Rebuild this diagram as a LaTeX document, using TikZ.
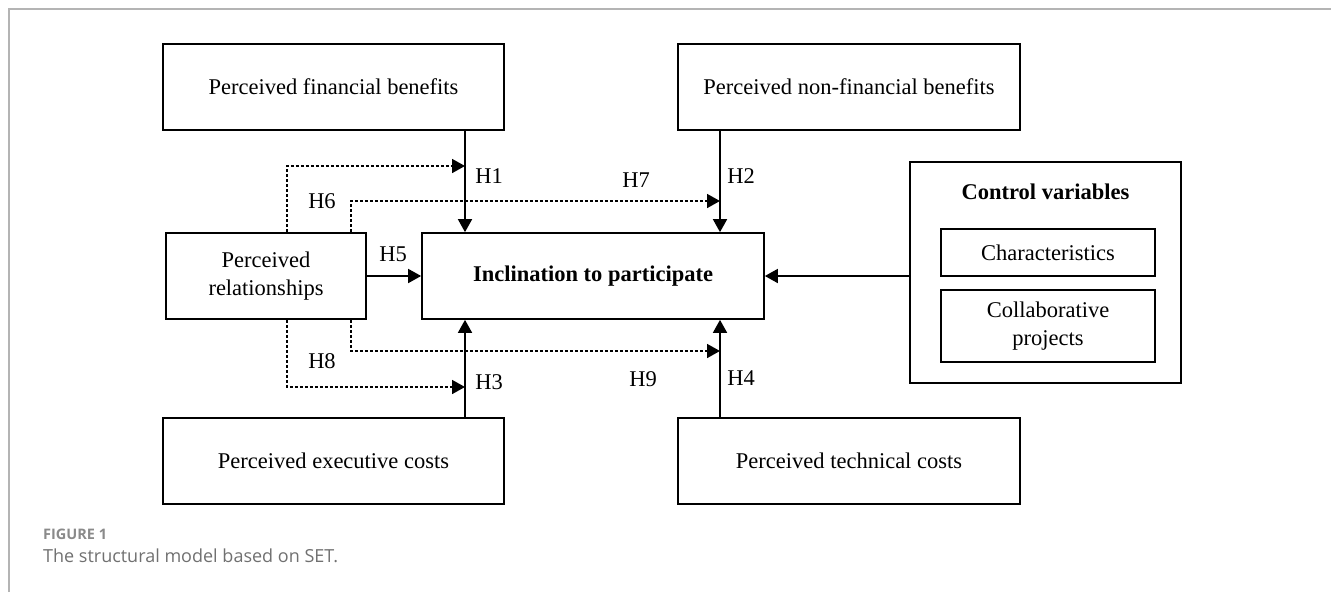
\documentclass[tikz,border=0pt]{standalone}
\usepackage{fontspec}
\setmainfont{Liberation Serif}
\newfontfamily\capfont{Open Sans}
\usetikzlibrary{arrows.meta}
\definecolor{framegray}{HTML}{B4B4B4}
\definecolor{capgray}{HTML}{707070}
\definecolor{figgray}{HTML}{8A8A8A}
\tikzset{
  box/.style={draw, line width=1.7pt, inner sep=0pt, align=center,
    font=\fontsize{22.5}{28}\selectfont},
  lbl/.style={inner sep=0pt, font=\fontsize{22.5}{28}\selectfont},
  arr/.style={line width=1.7pt, -{Triangle[length=13pt,width=14pt]}},
  darr/.style={line width=1.7pt, dash pattern=on 3pt off 2pt,
    -{Triangle[length=13pt,width=14pt]}},
}
\begin{document}
\begin{tikzpicture}[x=1pt,y=-1pt]
\useasboundingbox (0,0) rectangle (1331,592);
\draw[framegray, line width=1.8pt] (9,592) -- (9,9) -- (1331,9);

% boxes
\node[box, minimum width=341pt, minimum height=86pt] (fin) at (333.5,87) {Perceived financial benefits};
\node[box, minimum width=342pt, minimum height=86pt] (nonfin) at (849,87) {Perceived non-financial benefits};
\node[box, minimum width=200pt, minimum height=86pt] (rel) at (266,276) {Perceived\\relationships};
\node[box, minimum width=342pt, minimum height=86pt] (incl) at (593,276) {\textbf{Inclination to participate}};
\node[box, minimum width=271pt, minimum height=221pt] (ctrl) at (1045.5,272.5) {};
\node[lbl, font=\fontsize{22.5}{28}\selectfont\bfseries] (ctrlt) at (1045.5,192) {Control variables};
\node[box, minimum width=214pt, minimum height=47pt] (char) at (1048,252.5) {Characteristics};
\node[box, minimum width=214pt, minimum height=72pt] (collab) at (1048,326) {Collaborative\\projects};
\node[box, minimum width=341pt, minimum height=86pt] (exec) at (333.5,461) {Perceived executive costs};
\node[box, minimum width=342pt, minimum height=86pt] (tech) at (849,461) {Perceived technical costs};

% helper coordinates
\coordinate (xA) at (465,0);
\coordinate (xB) at (720,0);
\coordinate (xC) at (287,0);
\coordinate (xD) at (351,0);
\coordinate (yH6) at (0,166);
\coordinate (yH7) at (0,201);
\coordinate (yH8) at (0,387);
\coordinate (yH9) at (0,351);

% solid arrows
\draw[arr] (fin.south -| xA) -- (incl.north -| xA);
\draw[arr] (nonfin.south -| xB) -- (incl.north -| xB);
\draw[arr] (exec.north -| xA) -- (incl.south -| xA);
\draw[arr] (tech.north -| xB) -- (incl.south -| xB);
\draw[arr] (rel.east) -- (incl.west);
\draw[arr] (ctrl.west |- incl.east) -- (incl.east);

% dashed arrows
\draw[darr] (rel.north -| xC) |- (xA |- yH6);
\draw[darr] (rel.north -| xD) |- (xB |- yH7);
\draw[darr] (rel.south -| xC) |- (xA |- yH8);
\draw[darr] (rel.south -| xD) |- (xB |- yH9);

% labels
\node[lbl] (h1) at (489,176) {H1};
\node[lbl] (h2) at (741,176) {H2};
\node[lbl] (h3) at (489,382) {H3};
\node[lbl] (h4) at (741,378) {H4};
\node[lbl] (h5) at (393,254) {H5};
\node[lbl] (h6) at (322,201) {H6};
\node[lbl] (h7) at (636,180) {H7};
\node[lbl] (h8) at (322,361) {H8};
\node[lbl] (h9) at (643,379) {H9};

% caption
\node[anchor=base west, inner sep=0pt, text=figgray, font=\capfont\bfseries\fontsize{14.5}{16}\selectfont] (fig) at (43,539) {FIGURE 1};
\node[anchor=base west, inner sep=0pt, text=capgray, font=\capfont\fontsize{18}{20}\selectfont] (cap) at (43,562) {The structural model based on SET.};
\end{tikzpicture}
\end{document}
